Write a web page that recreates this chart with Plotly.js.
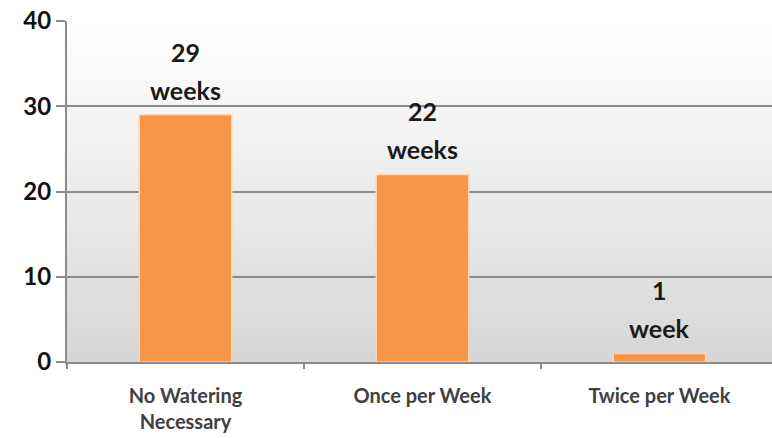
<!DOCTYPE html>
<html>
<head>
<meta charset="utf-8">
<script src="https://cdn.plot.ly/plotly-3.0.1.min.js"></script>
<style>html,body{margin:0;padding:0;background:#fff;}#chart{width:772px;height:438px;}</style>
</head>
<body>
<div id="chart"></div>
<script>
const categories = ["No Watering<br>Necessary", "Once per Week", "Twice per Week"];
const weeks = [29, 22, 1];
const valueLabels = ["29", "22", "1"];
const unitLabels = ["weeks", "weeks", "week"];
const yTicks = [0, 10, 20, 30, 40];

// background gradient strips (styling only)
const shapes = [];
const N = 80;
for (let i = 0; i < N; i++) {
  const t = (i + 0.5) / N; // 0 bottom, 1 top
  const v = Math.round(213 + (255 - 213) * Math.pow(t, 0.9));
  shapes.push({
    type: 'rect', xref: 'paper', yref: 'paper', layer: 'below',
    x0: 0, x1: 1, y0: i / N, y1: (i + 1) / N + 0.002,
    fillcolor: `rgb(${v},${v},${v})`, line: {width: 0}
  });
}

const labelFont = {family: 'Lato, "Open Sans", sans-serif', size: 25, weight: 'bold', color: '#1a1a1a'};
const annotations = [];
categories.forEach((c, i) => {
  annotations.push({
    x: c, y: weeks[i], xref: 'x', yref: 'y', text: valueLabels[i],
    showarrow: false, yanchor: 'bottom', yshift: 46, font: labelFont
  });
  annotations.push({
    x: c, y: weeks[i], xref: 'x', yref: 'y', text: unitLabels[i],
    showarrow: false, yanchor: 'bottom', yshift: 8, font: labelFont
  });
});

const trace = {
  type: 'bar', x: categories, y: weeks, width: 0.39,
  marker: {color: '#f79646', line: {color: '#fcd5b4', width: 1.5}},
  hoverinfo: 'none'
};

const layout = {
  width: 772, height: 438,
  margin: {l: 67, r: 0, t: 21, b: 76},
  paper_bgcolor: '#ffffff', plot_bgcolor: 'rgba(0,0,0,0)',
  showlegend: false,
  xaxis: {
    type: 'category', range: [-0.5, 2.475],
    showline: true, linecolor: '#8c8c8c', linewidth: 2,
    ticks: 'outside', tickson: 'boundaries', ticklen: 5, tickcolor: '#8c8c8c', tickwidth: 2,
    showgrid: false, ticklabelstandoff: 15,
    tickfont: {family: 'Lato, "Open Sans", sans-serif', size: 20, weight: 'bold', color: '#404040'}
  },
  yaxis: {
    range: [0, 40], tickvals: yTicks,
    showline: true, linecolor: '#8c8c8c', linewidth: 2,
    ticks: 'outside', ticklen: 9, tickcolor: '#8c8c8c', tickwidth: 2,
    showgrid: true, gridcolor: '#8c8c8c', gridwidth: 2,
    zeroline: false,
    tickfont: {family: 'Lato, "Open Sans", sans-serif', size: 24, weight: 'bold', color: '#111'}
  },
  shapes: shapes,
  annotations: annotations
};

Plotly.newPlot('chart', [trace], layout, {displayModeBar: false, staticPlot: true});
</script>
</body>
</html>
